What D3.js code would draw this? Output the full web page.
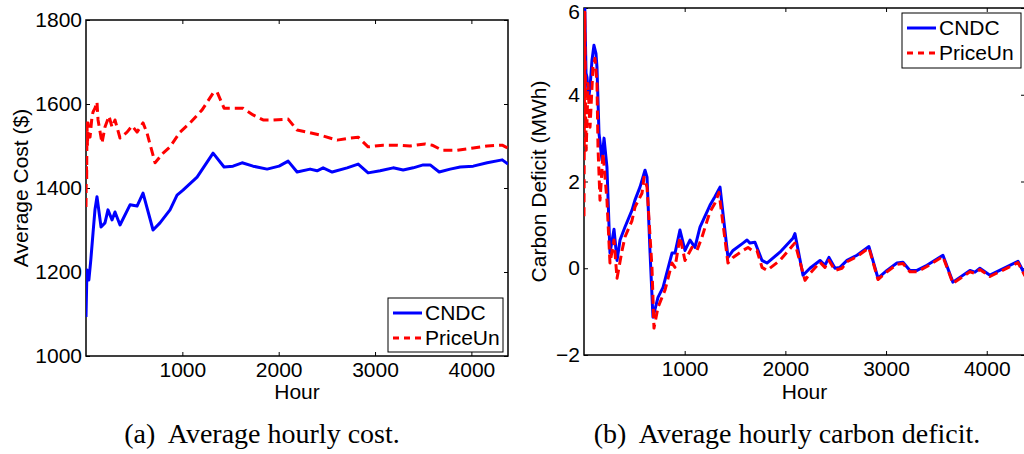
<!DOCTYPE html>
<html>
<head>
<meta charset="utf-8">
<script src="https://cdn.jsdelivr.net/npm/d3@7"></script>
<style>
  body { margin: 0; background: #fff; }
  svg { display: block; }
</style>
</head>
<body>
<div id="chart"></div>
<script>
// ---- data ----
const seriesNames = ['CNDC', 'PriceUn']
const hourTicks = [1000, 2000, 3000, 4000]
const costTicks = [1000, 1200, 1400, 1600, 1800]
const deficitTicks = [-2, 0, 2, 4, 6]
const hourMax = 4380

// (a) average hourly cost
const costCndcHours = [0, 10, 30, 50, 73, 93, 114, 156, 197, 228, 270, 301, 353, 457, 530, 592, 696, 768, 872, 945, 1007, 1153, 1319, 1433, 1526, 1620, 1734, 1880, 2004, 2098, 2191, 2326, 2399, 2461, 2555, 2710, 2825, 2928, 3053, 3188, 3292, 3396, 3500, 3572, 3666, 3780, 3884, 4019, 4164, 4320, 4380]
const costCndc = [1093, 1205, 1181, 1229, 1293, 1348, 1379, 1307, 1317, 1348, 1324, 1343, 1312, 1360, 1357, 1388, 1300, 1317, 1348, 1383, 1395, 1426, 1483, 1450, 1452, 1460, 1452, 1445, 1452, 1464, 1438, 1445, 1441, 1448, 1438, 1448, 1457, 1436, 1441, 1448, 1443, 1448, 1455, 1455, 1438, 1445, 1450, 1452, 1460, 1467, 1457]

const costPriceHours = [0, 4, 7, 10, 15, 21, 30, 42, 62, 73, 93, 114, 125, 166, 197, 239, 270, 301, 353, 426, 478, 530, 592, 633, 717, 800, 872, 976, 1080, 1205, 1319, 1360, 1433, 1526, 1630, 1734, 1838, 1931, 2098, 2191, 2295, 2430, 2606, 2741, 2825, 2928, 3084, 3230, 3364, 3520, 3593, 3697, 3853, 4019, 4164, 4320, 4380]
const costPrice = [1355, 1470, 1420, 1555, 1500, 1555, 1530, 1521, 1569, 1581, 1590, 1605, 1562, 1507, 1545, 1571, 1545, 1562, 1519, 1533, 1548, 1533, 1555, 1531, 1460, 1483, 1498, 1533, 1555, 1586, 1626, 1629, 1590, 1590, 1590, 1574, 1562, 1562, 1564, 1538, 1533, 1526, 1514, 1519, 1521, 1498, 1502, 1502, 1500, 1505, 1502, 1490, 1490, 1495, 1500, 1502, 1495]

// (b) average hourly carbon deficit
const deficitCndcHours = [0, 8, 20, 30, 45, 60, 79, 99, 119, 129, 149, 179, 199, 228, 258, 298, 328, 358, 407, 477, 506, 556, 606, 626, 655, 685, 735, 785, 874, 904, 953, 1003, 1053, 1102, 1152, 1251, 1300, 1351, 1430, 1480, 1579, 1619, 1648, 1698, 1768, 1817, 1946, 2075, 2095, 2175, 2244, 2344, 2393, 2433, 2493, 2542, 2612, 2711, 2830, 2920, 3009, 3108, 3168, 3237, 3307, 3406, 3565, 3664, 3833, 3883, 3932, 4032, 4310, 4380]
const deficitCndc = [4.2, 6.0, 4.5, 4.4, 3.9, 4.17, 4.79, 5.14, 4.95, 4.63, 3.11, 2.49, 3.0, 2.33, 0.35, 0.9, 0.18, 0.65, 0.95, 1.34, 1.57, 1.87, 2.26, 2.1, 0.41, -1.13, -0.67, -0.44, 0.35, 0.35, 0.88, 0.41, 0.65, 0.48, 0.95, 1.45, 1.65, 1.87, 0.25, 0.41, 0.58, 0.65, 0.58, 0.6, 0.18, 0.12, 0.37, 0.69, 0.8, -0.16, 0, 0.18, 0.07, 0.25, 0, 0.02, 0.18, 0.3, 0.5, -0.23, -0.05, 0.12, 0.14, -0.05, -0.05, 0.07, 0.3, -0.32, -0.05, -0.09, 0, -0.16, 0.16, -0.15]

const deficitPriceHours = [0, 8, 15, 22, 40, 60, 89, 109, 129, 139, 159, 189, 228, 258, 298, 328, 378, 407, 477, 506, 576, 596, 626, 675, 695, 735, 805, 874, 904, 953, 1003, 1072, 1122, 1172, 1251, 1300, 1341, 1430, 1480, 1579, 1629, 1668, 1718, 1768, 1817, 1946, 2075, 2095, 2195, 2244, 2344, 2393, 2433, 2493, 2562, 2612, 2711, 2830, 2920, 3009, 3108, 3168, 3237, 3307, 3406, 3565, 3664, 3833, 3883, 3932, 4032, 4310, 4380]
const deficitPrice = [1.2, 5.9, 3.87, 2.72, 4.26, 3.25, 4.63, 4.84, 4.26, 2.79, 1.57, 2.65, 1.57, 0.12, 0.65, -0.23, 0.41, 0.72, 1.1, 1.41, 1.73, 2.1, 1.87, 0.02, -1.38, -0.9, -0.5, 0.12, 0.02, 0.72, 0.18, 0.48, 0.41, 0.72, 1.3, 1.5, 1.75, 0.12, 0.25, 0.41, 0.48, 0.41, 0.41, 0.02, -0.05, 0.18, 0.53, 0.58, -0.28, -0.12, 0.14, 0.02, 0.18, -0.05, 0, 0.15, 0.27, 0.47, -0.26, -0.08, 0.09, 0.11, -0.08, -0.08, 0.04, 0.27, -0.35, -0.08, -0.12, -0.03, -0.19, 0.13, -0.18]

// ---- layout ----
const W = 1024, H = 454
const FONT = '"Liberation Sans", Arial, Helvetica, sans-serif'
const SERIF = '"Liberation Serif", "Times New Roman", Times, serif'
const FS = 21
const COLORS = ['#0000ff', '#ff0000']
const fmt = d3.format('d')

const svg = d3.select('#chart').append('svg')
  .attr('width', W)
  .attr('height', H)

svg.append('rect').attr('width', W).attr('height', H).attr('fill', '#fff')

const panels = [
  {
    id: 'a', left: 86, right: 508, top: 20, bottom: 356,
    yDomain: [1000, 1800], yTicks: costTicks, yLabel: 'Average Cost ($)', yLabelX: 28,
    series: [[costCndcHours, costCndc], [costPriceHours, costPrice]],
    legend: {x: 388, y: 298, w: 115, h: 54},
    caption: '(a)  Average hourly cost.', captionX: 262
  },
  {
    id: 'b', left: 584, right: 1025, top: 8, bottom: 355,
    yDomain: [-2, 6], yTicks: deficitTicks, yLabel: 'Carbon Deficit (MWh)', yLabelX: 546,
    series: [[deficitCndcHours, deficitCndc], [deficitPriceHours, deficitPrice]],
    legend: {x: 902, y: 13, w: 119, h: 55},
    caption: '(b)  Average hourly carbon deficit.', captionX: 787
  }
]

panels.forEach(p => {
  const x = d3.scaleLinear().domain([0, hourMax]).range([p.left, p.right])
  const y = d3.scaleLinear().domain(p.yDomain).range([p.bottom, p.top])
  const g = svg.append('g')

  g.append('clipPath').attr('id', 'clip-' + p.id)
    .append('rect')
    .attr('x', p.left).attr('y', p.top)
    .attr('width', p.right - p.left).attr('height', p.bottom - p.top)

  // axes, ticks point inward like matlab
  const styleAxis = sel => {
    sel.select('.domain').remove()
    sel.selectAll('line').attr('stroke', '#000').attr('stroke-width', 1)
    sel.selectAll('text').attr('font-family', FONT).attr('font-size', FS).attr('fill', '#000')
  }
  g.append('g').attr('transform', `translate(0,${p.bottom})`)
    .call(d3.axisBottom(x).tickValues(hourTicks).tickFormat(fmt).tickSize(-4).tickPadding(6))
    .call(styleAxis)
  g.append('g').attr('transform', `translate(0,${p.top})`)
    .call(d3.axisTop(x).tickValues(hourTicks).tickSize(-4).tickFormat(''))
    .call(styleAxis)
  const yAxisG = g.append('g').attr('transform', `translate(${p.left},0)`)
    .call(d3.axisLeft(y).tickValues(p.yTicks).tickFormat(fmt).tickSize(-4).tickPadding(4))
    .call(styleAxis)
  // keep the topmost label inside the picture
  yAxisG.selectAll('.tick text')
    .filter(d => y(d) < 12)
    .attr('dy', '0.5em')
  g.append('g').attr('transform', `translate(${p.right},0)`)
    .call(d3.axisRight(y).tickValues(p.yTicks).tickSize(-4).tickFormat(''))
    .call(styleAxis)

  // frame
  g.append('rect')
    .attr('x', p.left).attr('y', p.top)
    .attr('width', p.right - p.left).attr('height', p.bottom - p.top)
    .attr('fill', 'none').attr('stroke', '#000').attr('stroke-width', 1.5)

  // lines
  const line = d3.line().x(d => x(d[0])).y(d => y(d[1]))
  p.series.forEach((s, i) => {
    const pts = s[0].map((h, k) => [h, s[1][k]])
    g.append('path')
      .datum(pts)
      .attr('clip-path', `url(#clip-${p.id})`)
      .attr('d', line)
      .attr('fill', 'none')
      .attr('stroke', COLORS[i])
      .attr('stroke-width', 3)
      .attr('stroke-linejoin', 'round')
      .attr('stroke-dasharray', i === 1 ? '9,5' : null)
  })

  // labels
  g.append('text')
    .attr('x', (p.left + p.right) / 2)
    .attr('y', 399)
    .attr('text-anchor', 'middle')
    .attr('font-family', FONT).attr('font-size', FS)
    .text('Hour')

  g.append('text')
    .attr('transform', `translate(${p.yLabelX},${(p.top + p.bottom) / 2}) rotate(-90)`)
    .attr('text-anchor', 'middle')
    .attr('font-family', FONT).attr('font-size', FS)
    .text(p.yLabel)

  // legend
  const L = p.legend
  const lg = g.append('g').attr('transform', `translate(${L.x},${L.y})`)
  lg.append('rect')
    .attr('width', L.w).attr('height', L.h)
    .attr('fill', '#fff').attr('stroke', '#000').attr('stroke-width', 1)
  seriesNames.forEach((name, i) => {
    const ly = 15 + i * 25
    lg.append('line')
      .attr('x1', 5).attr('x2', 34).attr('y1', ly).attr('y2', ly)
      .attr('stroke', COLORS[i]).attr('stroke-width', 3)
      .attr('stroke-dasharray', i === 1 ? '6,5' : null)
    lg.append('text')
      .attr('x', 37).attr('y', ly + 7)
      .attr('font-family', FONT).attr('font-size', FS)
      .text(name)
  })

  // caption
  svg.append('text')
    .attr('x', p.captionX).attr('y', 443)
    .attr('text-anchor', 'middle')
    .attr('font-family', SERIF).attr('font-size', 28)
    .attr('xml:space', 'preserve')
    .style('white-space', 'pre')
    .text(p.caption)
})
</script>
</body>
</html>
